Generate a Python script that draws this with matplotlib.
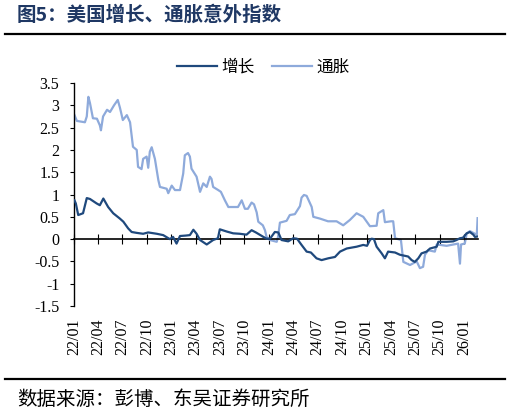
import matplotlib
matplotlib.use("Agg")
import matplotlib.pyplot as plt
import matplotlib.transforms as mtransforms
import pandas as pd

plt.rcParams['font.family'] = ['Noto Sans CJK SC', 'DejaVu Sans']

# ---------------- data ----------------
growth_dates = ["2022-01-03", "2022-01-08", "2022-01-17", "2022-02-04", "2022-02-18", "2022-03-02",
                "2022-03-27", "2022-04-08", "2022-04-21", "2022-05-09", "2022-05-28", "2022-06-22",
                "2022-07-05", "2022-07-23", "2022-08-05", "2022-08-24", "2022-09-17", "2022-10-06",
                "2022-11-07", "2022-12-01", "2022-12-26", "2023-01-07", "2023-01-20", "2023-02-02",
                "2023-02-24", "2023-03-11", "2023-03-24", "2023-04-05", "2023-04-18", "2023-05-13",
                "2023-06-06", "2023-06-24", "2023-07-01", "2023-07-27", "2023-08-20", "2023-09-14",
                "2023-10-09", "2023-10-28", "2023-11-13", "2023-12-11", "2023-12-23", "2024-01-05",
                "2024-01-23", "2024-02-05", "2024-02-17", "2024-03-13", "2024-04-01", "2024-04-15",
                "2024-05-02", "2024-05-21", "2024-06-06", "2024-06-27", "2024-07-16", "2024-08-10",
                "2024-09-04", "2024-09-23", "2024-10-18", "2024-11-24", "2024-12-19", "2025-01-02",
                "2025-01-13", "2025-01-19", "2025-01-28", "2025-02-07", "2025-02-26", "2025-03-10",
                "2025-03-22", "2025-04-17", "2025-05-05", "2025-06-05", "2025-06-18", "2025-06-30",
                "2025-07-13", "2025-07-25", "2025-08-13", "2025-08-26", "2025-09-20", "2025-09-26",
                "2025-10-27", "2025-11-21", "2025-12-03", "2025-12-16", "2025-12-27", "2026-01-10",
                "2026-01-22", "2026-02-04", "2026-02-10", "2026-02-20"]
growth_values = [0.87, 0.80, 0.54, 0.58, 0.92, 0.90,
                 0.80, 0.76, 0.91, 0.72, 0.58, 0.46,
                 0.39, 0.24, 0.16, 0.14, 0.12, 0.15,
                 0.12, 0.09, 0.00, 0.05, -0.10, 0.07,
                 0.08, 0.09, 0.21, 0.12, -0.02, -0.12,
                 -0.02, 0.02, 0.22, 0.17, 0.13, 0.12,
                 0.10, 0.20, 0.15, 0.05, 0.01, 0.01,
                 0.16, 0.15, -0.02, -0.05, 0.02, 0.01,
                 -0.13, -0.28, -0.30, -0.43, -0.47, -0.43,
                 -0.40, -0.28, -0.21, -0.17, -0.13, -0.15,
                 -0.02, 0.01, 0.00, -0.17, -0.32, -0.43,
                 -0.28, -0.30, -0.35, -0.39, -0.47, -0.51,
                 -0.43, -0.32, -0.28, -0.21, -0.17, -0.06,
                 -0.06, -0.05, -0.02, 0.02, 0.03, 0.13,
                 0.16, 0.10, 0.05, 0.06]

inflation_dates = ["2022-01-03", "2022-01-12", "2022-02-11", "2022-02-18", "2022-02-24", "2022-03-02",
                   "2022-03-13", "2022-03-28", "2022-04-08", "2022-04-12", "2022-04-20", "2022-05-05",
                   "2022-05-16", "2022-05-31", "2022-06-14", "2022-06-22", "2022-07-03", "2022-07-18",
                   "2022-07-30", "2022-08-10", "2022-08-24", "2022-08-29", "2022-09-11", "2022-09-17",
                   "2022-09-30", "2022-10-06", "2022-10-12", "2022-10-19", "2022-10-31", "2022-11-13",
                   "2022-11-19", "2022-12-14", "2022-12-20", "2023-01-02", "2023-01-14", "2023-02-02",
                   "2023-02-14", "2023-02-20", "2023-03-04", "2023-03-11", "2023-03-17", "2023-04-05",
                   "2023-04-18", "2023-04-30", "2023-05-13", "2023-05-25", "2023-05-31", "2023-06-06",
                   "2023-06-25", "2023-07-05", "2023-07-20", "2023-08-02", "2023-08-20", "2023-09-07",
                   "2023-09-21", "2023-10-03", "2023-10-14", "2023-10-28", "2023-11-06", "2023-11-16",
                   "2023-11-22", "2023-12-09", "2023-12-17", "2023-12-23", "2024-01-05", "2024-01-30",
                   "2024-02-04", "2024-02-11", "2024-03-07", "2024-03-19", "2024-04-07", "2024-04-26",
                   "2024-05-02", "2024-05-11", "2024-05-21", "2024-06-09", "2024-06-15", "2024-07-10",
                   "2024-08-09", "2024-09-10", "2024-10-05", "2024-10-30", "2024-11-24", "2024-12-19",
                   "2025-01-13", "2025-02-07", "2025-02-13", "2025-03-04", "2025-03-10", "2025-04-02",
                   "2025-04-10", "2025-04-17", "2025-05-09", "2025-05-18", "2025-06-12", "2025-07-07",
                   "2025-07-19", "2025-07-31", "2025-08-07", "2025-08-19", "2025-09-13", "2025-09-20",
                   "2025-10-27", "2025-12-09", "2025-12-16", "2025-12-20", "2026-01-03", "2026-01-10",
                   "2026-01-22", "2026-02-10", "2026-02-17", "2026-02-20"]
inflation_values = [2.78, 2.65, 2.62, 2.75, 3.19, 3.05,
                    2.71, 2.70, 2.55, 2.44, 2.75, 2.90,
                    2.85, 3.00, 3.12, 2.95, 2.67, 2.78,
                    2.62, 2.07, 2.00, 1.62, 1.57, 1.80,
                    1.85, 1.60, 1.96, 2.06, 1.80, 1.32,
                    1.17, 1.13, 1.03, 1.20, 1.10, 1.10,
                    1.47, 1.88, 1.93, 1.85, 1.58, 1.40,
                    1.06, 1.25, 1.17, 1.40, 1.35, 1.17,
                    1.10, 1.06, 0.87, 0.72, 0.72, 0.72,
                    0.87, 0.68, 0.68, 0.82, 0.78, 0.60,
                    0.39, 0.31, 0.20, 0.05, -0.02, -0.06,
                    0.05, 0.37, 0.41, 0.54, 0.56, 0.74,
                    0.93, 0.99, 0.97, 0.72, 0.50, 0.46,
                    0.40, 0.40, 0.31, 0.43, 0.58, 0.50,
                    0.29, 0.30, 0.58, 0.65, 0.38, 0.40,
                    0.40, 0.02, -0.02, -0.51, -0.58, -0.50,
                    -0.65, -0.62, -0.35, -0.25, -0.28, -0.12,
                    -0.15, -0.10, -0.55, -0.12, -0.10, 0.12,
                    0.18, 0.12, 0.10, 0.47]

tick_labels = ["22/01", "22/04", "22/07", "22/10", "23/01", "23/04", "23/07", "23/10",
               "24/01", "24/04", "24/07", "24/10", "25/01", "25/04", "25/07", "25/10", "26/01"]
y_ticks = [-1.5, -1, -0.5, 0, 0.5, 1, 1.5, 2, 2.5, 3, 3.5]

series_names = ["增长", "通胀"]
title = "图5：美国增长、通胀意外指数"
source = "数据来源：彭博、东吴证券研究所"

# ---------------- figure ----------------
DARK = "#1F497D"
LIGHT = "#8EAADB"
SERIF = ["Liberation Serif", "DejaVu Serif"]

fig = plt.figure(figsize=(5.10, 4.13), dpi=100)
ax = fig.add_axes([0.145, 0.259, 0.792, 0.540])

g_dates = pd.to_datetime(growth_dates)
i_dates = pd.to_datetime(inflation_dates)
ax.plot(g_dates, growth_values, color=DARK, lw=1.6, label=series_names[0], zorder=3)
ax.plot(i_dates, inflation_values, color=LIGHT, lw=1.6, label=series_names[1], zorder=2)

ax.set_ylim(-1.5, 3.5)
ax.set_xlim(pd.Timestamp("2022-01-01"), pd.Timestamp("2026-02-21"))

ax.set_yticks(y_ticks)
ax.set_yticklabels([f"{v:g}" for v in y_ticks], fontfamily=SERIF, fontsize=11.5)
ax.tick_params(axis='y', direction='out', length=3, width=0.8, pad=7.5)

tick_dates = [pd.Timestamp("20" + s.split("/")[0] + "-" + s.split("/")[1] + "-01") for s in tick_labels]
ax.set_xticks(tick_dates)
ax.set_xticklabels([])
ax.tick_params(axis='x', direction='inout', length=7, width=0.8)

for side in ("top", "right"):
    ax.spines[side].set_visible(False)
ax.spines['bottom'].set_position(('data', 0))
ax.spines['bottom'].set_linewidth(1.2)
ax.spines['left'].set_linewidth(1.0)

trans = mtransforms.blended_transform_factory(ax.transData, ax.transAxes)
for d, lab in zip(tick_dates, tick_labels):
    ax.text(d, -0.055, lab, transform=trans, rotation=90, ha='center', va='top',
            fontfamily=SERIF, fontsize=11.5)

leg = ax.legend(loc='center', bbox_to_anchor=(0.469, 1.072), ncol=2, frameon=False,
                prop={'size': 12}, handlelength=2.4, columnspacing=1.0, handletextpad=0.3,
                borderpad=0, borderaxespad=0)

fig.text(0.033, 0.963, title, fontsize=14, fontweight='bold', color="#1F3864",
         ha='left', va='center')
fig.add_artist(plt.Line2D([0.01, 0.99], [0.917, 0.917], color='black', lw=1.6,
                          transform=fig.transFigure))
fig.add_artist(plt.Line2D([0.01, 0.99], [0.082, 0.082], color='black', lw=1.6,
                          transform=fig.transFigure))
fig.text(0.033, 0.032, source, fontsize=14, ha='left', va='center')

fig.savefig("out.png", dpi=100)
